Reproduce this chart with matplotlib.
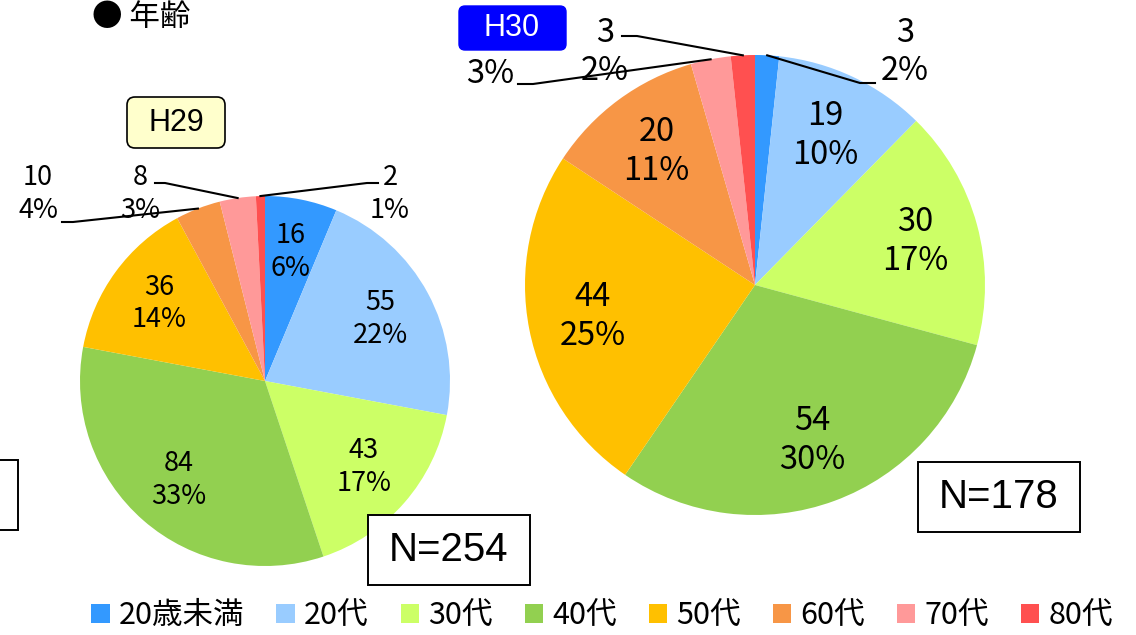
import numpy as np
import matplotlib.pyplot as plt
from matplotlib.patches import FancyBboxPatch, Rectangle

plt.rcParams['font.family'] = ['Noto Sans CJK JP', 'DejaVu Sans']

W, H = 1136, 635

ages = ['20歳未満', '20代', '30代', '40代', '50代', '60代', '70代', '80代']
colors = ['#3399FF', '#99CCFF', '#CCFF66', '#92D050',
          '#FFC000', '#F79646', '#FF9999', '#FF5050']

h29_counts = [16, 55, 43, 84, 36, 10, 8, 2]
h29_pct = [6, 22, 17, 33, 14, 4, 3, 1]
h30_counts = [3, 19, 30, 54, 44, 20, 5, 3]
h30_pct = [2, 10, 17, 30, 25, 11, 3, 2]


def py(y):
    # pixel row (top=0) -> data y
    return H - y


def edge_point(w, cx, cy, r):
    a = np.deg2rad((w.theta1 + w.theta2) / 2)
    return cx + r * np.cos(a), cy + r * np.sin(a)


def draw_pie(ax, counts, pct, cx, cy, r, fs, rlab, outside, hide_count=()):
    cy = py(cy)
    wedges, _ = ax.pie(counts, colors=colors, startangle=90, counterclock=False,
                       center=(cx, cy), radius=r,
                       wedgeprops=dict(linewidth=0))
    for i, w in enumerate(wedges):
        lab = '%d\n%d%%' % (counts[i], pct[i])
        if i in outside:
            tx, ty, pts = outside[i]
            if i in hide_count:
                # the count sits under the year tag in the original; only % shows
                ax.text(tx, py(ty + 22), '%d%%' % pct[i], ha='center', va='center',
                        fontsize=fs, zorder=3)
            else:
                ax.text(tx, py(ty), lab, ha='center', va='center', fontsize=fs,
                        linespacing=1.28, zorder=3)
            ex, ey = edge_point(w, cx, cy, r)
            xs = [p[0] for p in pts] + [ex]
            ys = [py(p[1]) for p in pts] + [ey]
            ax.plot(xs, ys, color='black', lw=1.5, zorder=4)
        else:
            ex, ey = edge_point(w, cx, cy, r * rlab)
            ax.text(ex, ey, lab, ha='center', va='center', fontsize=fs,
                    linespacing=1.28, zorder=3)
    return wedges


fig = plt.figure(figsize=(W / 100, H / 100), dpi=100)
ax = fig.add_axes([0, 0, 1, 1])

# H29 (left)
h29_out = {
    5: (38, 194, [(62, 222), (73, 222)]),
    6: (140, 194, [(155, 183), (165, 183)]),
    7: (390, 194, [(378, 183), (367, 183)]),
}
wedges = draw_pie(ax, h29_counts, h29_pct, 265, 381, 185, 19.5, 0.71, h29_out)

# H30 (right)
h30_out = {
    0: (905, 52, [(875, 83), (860, 83)]),
    6: (490, 52, [(518, 84), (533, 84)]),
    7: (605, 52, [(622, 36), (637, 36)]),
}
draw_pie(ax, h30_counts, h30_pct, 755, 285, 230, 23.5, 0.72, h30_out, hide_count=(6,))

ax.set_xlim(0, W)
ax.set_ylim(0, H)
ax.set_aspect('auto')
ax.axis('off')

# title
ax.text(92, py(18), '● 年齢', fontsize=22, ha='left', va='center')

# year tags
ax.add_patch(FancyBboxPatch((127, py(148)), 98, 51, boxstyle='round,pad=0,rounding_size=8',
                            fc='#FFFFCC', ec='black', lw=1.2, zorder=5))
ax.text(176, py(123), 'H29', fontsize=22, ha='center', va='center',
        family='Liberation Sans', zorder=6)
ax.add_patch(FancyBboxPatch((459, py(50)), 107, 44, boxstyle='round,pad=0,rounding_size=6',
                            fc='#0000FF', ec='#0000FF', lw=1, zorder=5))
ax.text(512, py(28), 'H30', fontsize=22, ha='center', va='center', color='white',
        family='Liberation Sans', zorder=6)

# N boxes
ax.add_patch(Rectangle((368, py(585)), 162, 70, fc='white', ec='black', lw=1.4, zorder=5))
ax.text(449, py(550), 'N=254', fontsize=29, ha='center', va='center',
        family='Liberation Sans', zorder=6)
ax.add_patch(Rectangle((918, py(532)), 162, 70, fc='white', ec='black', lw=1.4, zorder=5))
ax.text(999, py(497), 'N=178', fontsize=29, ha='center', va='center',
        family='Liberation Sans', zorder=6)
# partly hidden box at the left edge
ax.add_patch(Rectangle((-150, py(530)), 168, 70, fc='white', ec='black', lw=1.4, zorder=5))

leg = ax.legend(wedges, ages, loc='center', bbox_to_anchor=(602 / W, 1 - 616 / H),
                ncol=8, frameon=False, fontsize=22, handlelength=0.6, handleheight=0.6,
                handletextpad=0.3, columnspacing=1.05, borderpad=0)

fig.savefig('out.png', dpi=100)
